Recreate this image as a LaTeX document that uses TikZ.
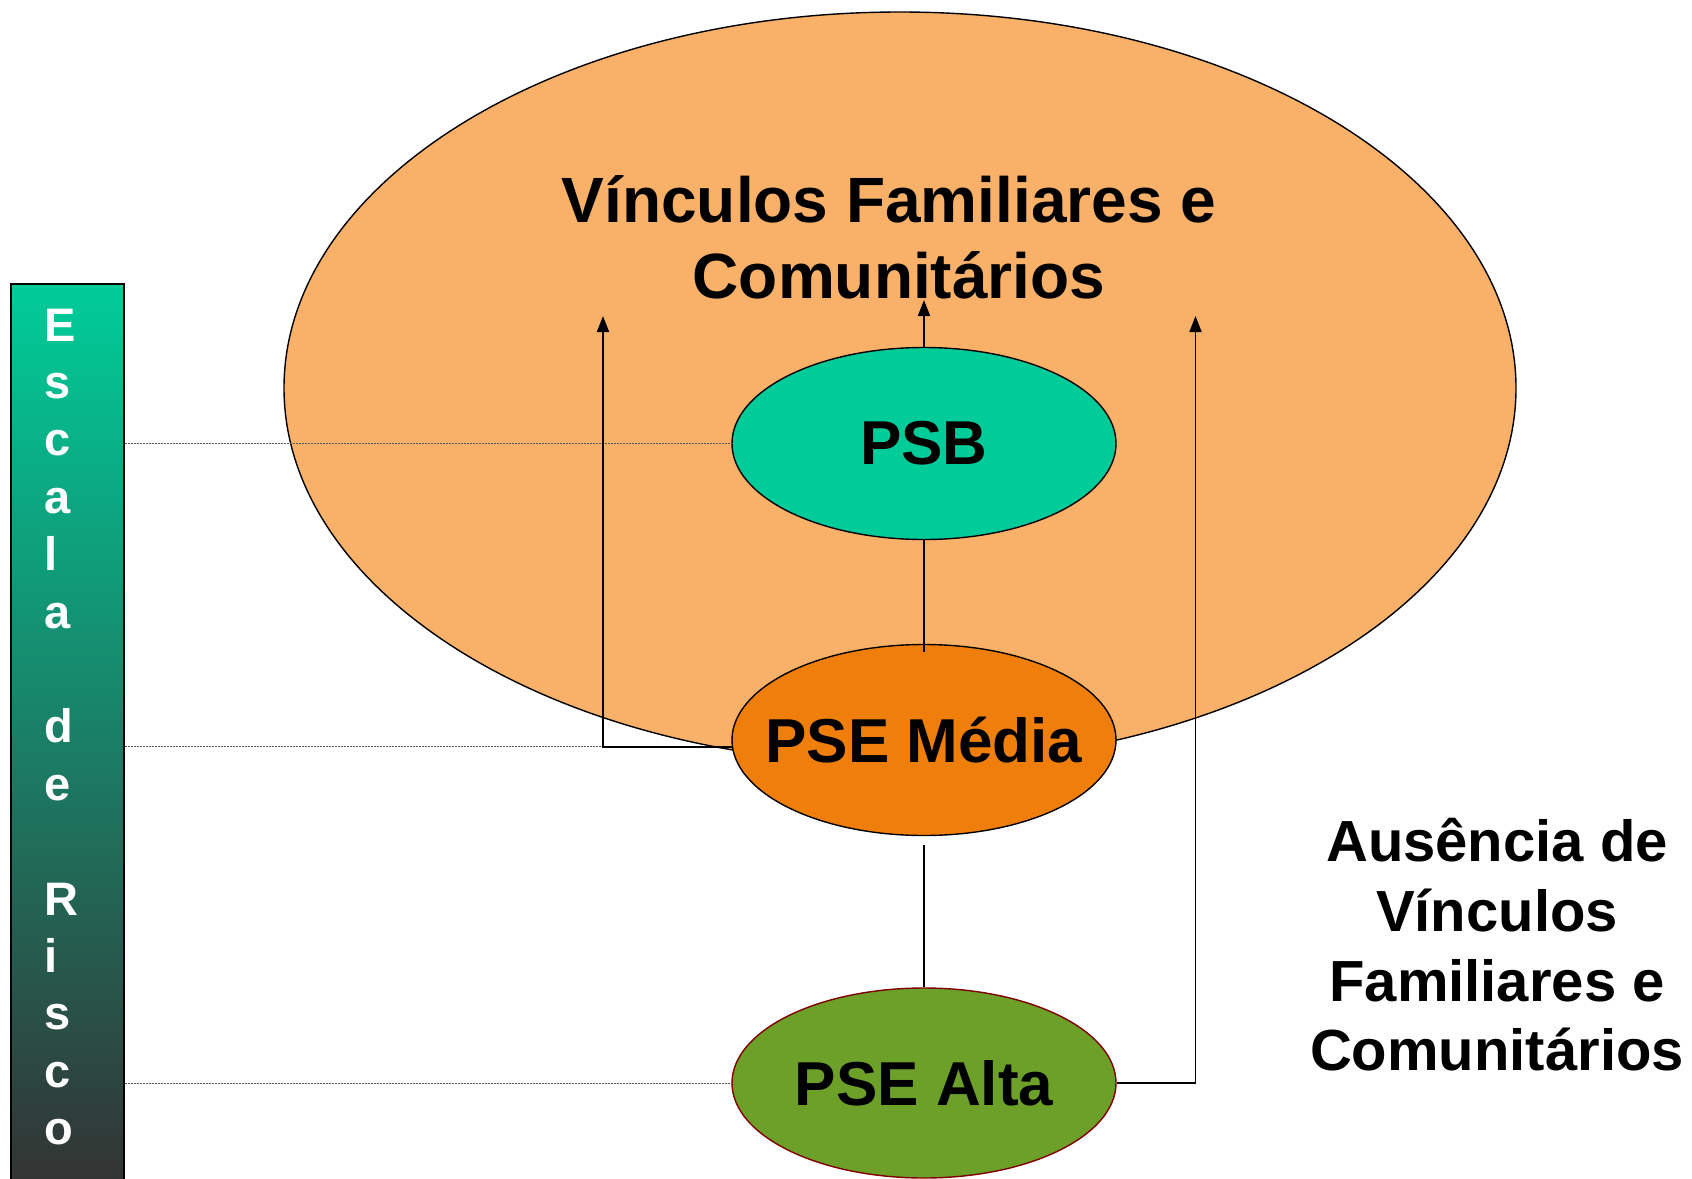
\documentclass[tikz,border=0pt]{standalone}
\usepackage{fontspec}
\setmainfont{Liberation Sans}
\usetikzlibrary{shapes.geometric,arrows.meta}
\definecolor{bigfill}{RGB}{249,177,106}
\definecolor{psbfill}{RGB}{0,204,153}
\definecolor{medfill}{RGB}{239,127,10}
\definecolor{altfill}{RGB}{108,160,40}
\definecolor{altdraw}{RGB}{128,0,0}
\definecolor{bartop}{RGB}{0,204,153}
\definecolor{barbot}{RGB}{51,51,51}
\begin{document}
\begin{tikzpicture}[x=1pt,y=-1pt,
  oval/.style={ellipse, draw=black, line width=1.4pt, inner sep=0pt,
    minimum width=384pt, minimum height=192pt},
  ovaltext/.style={font=\fontsize{62}{70}\selectfont\bfseries},
  conn/.style={draw=black, line width=1.9pt},
  arr/.style={conn, -{Triangle[length=16pt,width=12pt]}},
  guide/.style={draw=black!65, line width=1pt, dash pattern=on 2pt off 1pt},
  titletext/.style={font=\fontsize{64}{76}\selectfont\bfseries, inner sep=0pt, anchor=base},
  sidetext/.style={font=\fontsize{58}{70}\selectfont\bfseries, inner sep=0pt, anchor=base},
  barletter/.style={font=\fontsize{47}{57}\selectfont\bfseries, text=white, inner sep=0pt, anchor=base west}]
\useasboundingbox (0,0) rectangle (1692,1178);
% big ellipse
\node[ellipse, draw=black, fill=bigfill, line width=1.4pt, inner sep=0pt,
  minimum width=1232pt, minimum height=752pt] (big) at (900,388) {};
\node[titletext] (t1) at (889,222) {Vínculos Familiares e};
\node[titletext] (t2) at (899,298) {Comunitários};
% side bar
\node[rectangle, draw=black, line width=1.5pt, top color=bartop, bottom color=barbot,
  minimum width=113pt, minimum height=900pt, inner sep=0pt] (bar) at (67.5,734) {};
\foreach \ch/\i in {E/0,s/1,c/2,a/3,l/4,a/5,d/7,e/8,R/10,i/11,s/12,c/13,o/14}
  \node[barletter] (bl\i) at (44.5,341+57.4*\i) {\ch};
% small ellipses
\node[oval, fill=psbfill, label={[ovaltext]center:PSB}] (psb) at (924,443.5) {};
\node[oval, fill=medfill, minimum height=191pt, label={[ovaltext]center:PSE Média}] (psem) at (924,740) {};
\node[oval, fill=altfill, draw=altdraw, minimum height=190pt,
  label={[ovaltext]center:PSE Alta}] (psea) at (924,1083) {};
% guides
\draw[guide] (bar.east |- psb.west) -- (psb.west);
\draw[guide] (bar.east |- psem.182) -- (psem.182);
\draw[guide] (bar.east |- psea.west) -- (psea.west);
% connectors
\coordinate (tipc) at (924,300);
\coordinate (tipl) at (603,316);
\coordinate (tipr) at (1195.5,316);
\draw[arr] (psb.north) -- (tipc);
\draw[conn] (psb.south) -- ([yshift=-8pt]psem.north);
\draw[conn] ([yshift=-9pt]psem.south) -- (psea.north);
\draw[arr] (psem.182) -| (tipl);
\draw[arr] (psea.east) -| (tipr);
% right text
\node[sidetext] (s1) at (1497,861) {Ausência de};
\node[sidetext] (s2) at (1497,931) {Vínculos};
\node[sidetext] (s3) at (1497,1001) {Familiares e};
\node[sidetext] (s4) at (1497,1070) {Comunitários};
\end{tikzpicture}
\end{document}
